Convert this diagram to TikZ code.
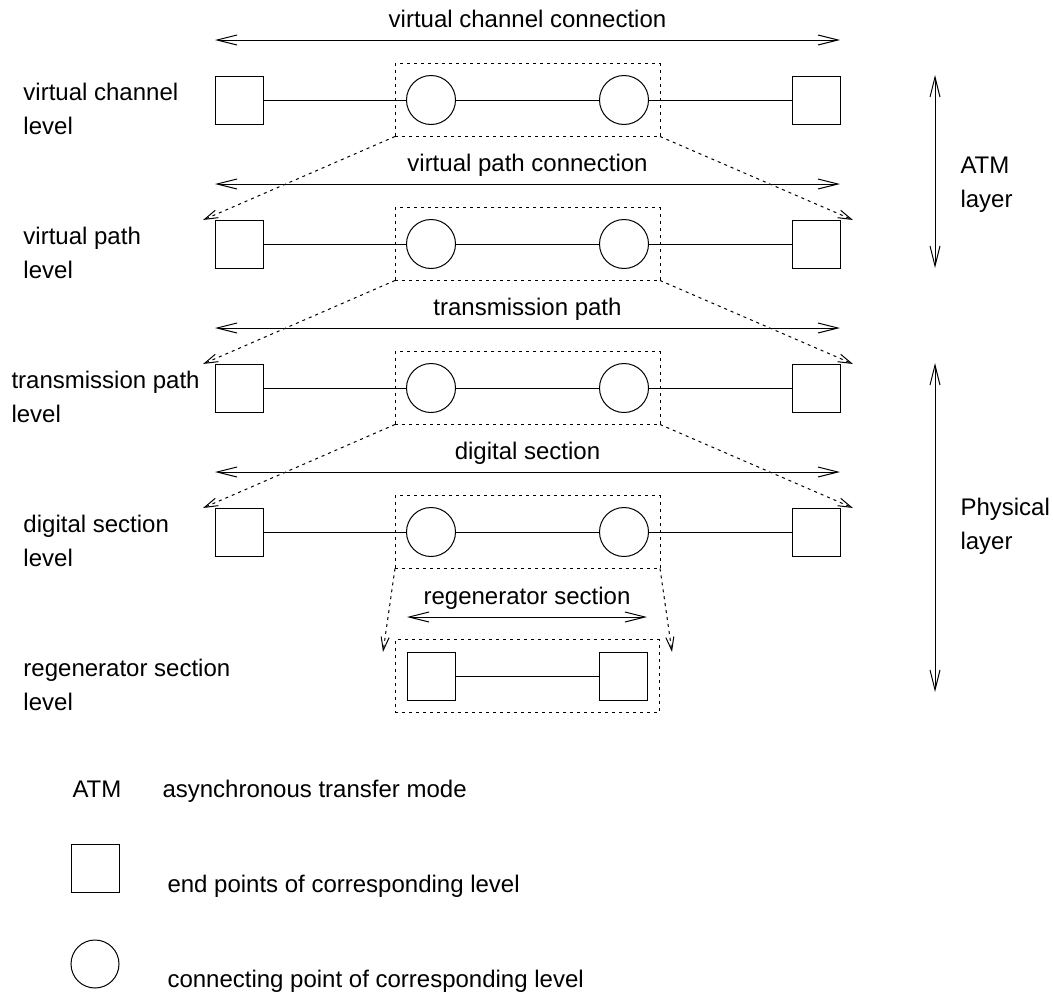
\documentclass[tikz,border=0pt]{standalone}
\usepackage{fontspec}
\setmainfont{Liberation Sans}
\usetikzlibrary{arrows.meta}
\begin{document}
\begin{tikzpicture}[x=0.75pt,y=-0.75pt,line width=0.75pt,
  endpt/.style={draw,rectangle,minimum size=36pt,inner sep=0pt,outer sep=0pt},
  conpt/.style={draw,circle,minimum size=36.75pt,inner sep=0pt,outer sep=0pt},
  zonebox/.style={draw,dash pattern=on 2.25pt off 3pt,minimum width=198.75pt,minimum height=54.75pt,inner sep=0pt,outer sep=0pt},
  span/.style={{Straight Barb[length=15pt,width=7.5pt]}-{Straight Barb[length=15pt,width=7.5pt]}},
  zoomin/.style={dash pattern=on 2.25pt off 3pt,-{Straight Barb[length=10pt,width=6pt]}},
  lbl/.style={anchor=base west,inner sep=0pt,font=\fontsize{18pt}{22pt}\selectfont},
  ttl/.style={anchor=base,inner sep=0pt,font=\fontsize{18pt}{22pt}\selectfont}]
\useasboundingbox (0,0) rectangle (1053,996);

% four levels with end points, connecting points and the zone box
\foreach \r/\y in {1/100,2/244,3/388,4/532}{
  \node[zonebox] (box\r) at (527.5,\y) {};
  \node[endpt] (sqL\r) at (239,\y) {};
  \node[conpt] (cL\r) at (431,\y) {};
  \node[conpt] (cR\r) at (624,\y) {};
  \node[endpt] (sqR\r) at (816,\y) {};
  \draw (sqL\r) -- (cL\r);
  \draw (cL\r) -- (cR\r);
  \draw (cR\r) -- (sqR\r);
}

% regenerator section level
\node[zonebox,minimum width=198pt] (box5) at (527,676) {};
\node[endpt] (sqL5) at (431,676) {};
\node[endpt] (sqR5) at (623,676) {};
\draw (sqL5) -- (sqR5);

% spans of each level
\foreach \r/\y in {1/40,2/184,3/328,4/472}{
  \coordinate (spL\r) at (215,\y);
  \coordinate (spR\r) at (840,\y);
  \draw[span] (spL\r) -- (spR\r);
}
\coordinate (spL5) at (407,617);
\coordinate (spR5) at (647,617);
\draw[span] (spL5) -- (spR5);

\node[ttl] (t1) at (527.5,27) {virtual channel connection};
\node[ttl] (t2) at (527.5,171) {virtual path connection};
\node[ttl] (t3) at (527.5,315) {transmission path};
\node[ttl] (t4) at (527.5,459) {digital section};
\node[ttl] (t5) at (527,604) {regenerator section};

% zoom lines from each zone box to the next level
\coordinate (zL1) at (203,220); \coordinate (zR1) at (853,220);
\coordinate (zL2) at (203,364); \coordinate (zR2) at (853,364);
\coordinate (zL3) at (203,508); \coordinate (zR3) at (853,508);
\coordinate (zL4) at (383,652); \coordinate (zR4) at (672,652);
\foreach \r in {1,2,3,4}{
  \draw[zoomin] (box\r.south west) -- (zL\r);
  \draw[zoomin] (box\r.south east) -- (zR\r);
}

% level names
\node[lbl] (n1a) at (23,100) {virtual channel};
\node[lbl] (n1b) at (23,134) {level};
\node[lbl] (n2a) at (23,244) {virtual path};
\node[lbl] (n2b) at (23,278) {level};
\node[lbl] (n3a) at (11,388) {transmission path};
\node[lbl] (n3b) at (11,422) {level};
\node[lbl] (n4a) at (23,532) {digital section};
\node[lbl] (n4b) at (23,566) {level};
\node[lbl] (n5a) at (23,676) {regenerator section};
\node[lbl] (n5b) at (23,710) {level};

% layers
\coordinate (atmT) at (935,75); \coordinate (atmB) at (935,268);
\draw[span] (atmT) -- (atmB);
\node[lbl] (atm1) at (960,173) {ATM};
\node[lbl] (atm2) at (960,207) {layer};
\coordinate (phyT) at (935,363); \coordinate (phyB) at (935,692);
\draw[span] (phyT) -- (phyB);
\node[lbl] (phy1) at (960,515) {Physical};
\node[lbl] (phy2) at (960,549) {layer};

% legend
\node[lbl] (k1) at (72,797) {ATM};
\node[lbl] (k1t) at (162,797) {asynchronous transfer mode};
\node[endpt] (k2) at (95,868.5) {};
\node[lbl] (k2t) at (167,892) {end points of corresponding level};
\node[conpt,minimum size=36pt] (k3) at (95,964) {};
\node[lbl] (k3t) at (167,987) {connecting point of corresponding level};
\end{tikzpicture}
\end{document}
